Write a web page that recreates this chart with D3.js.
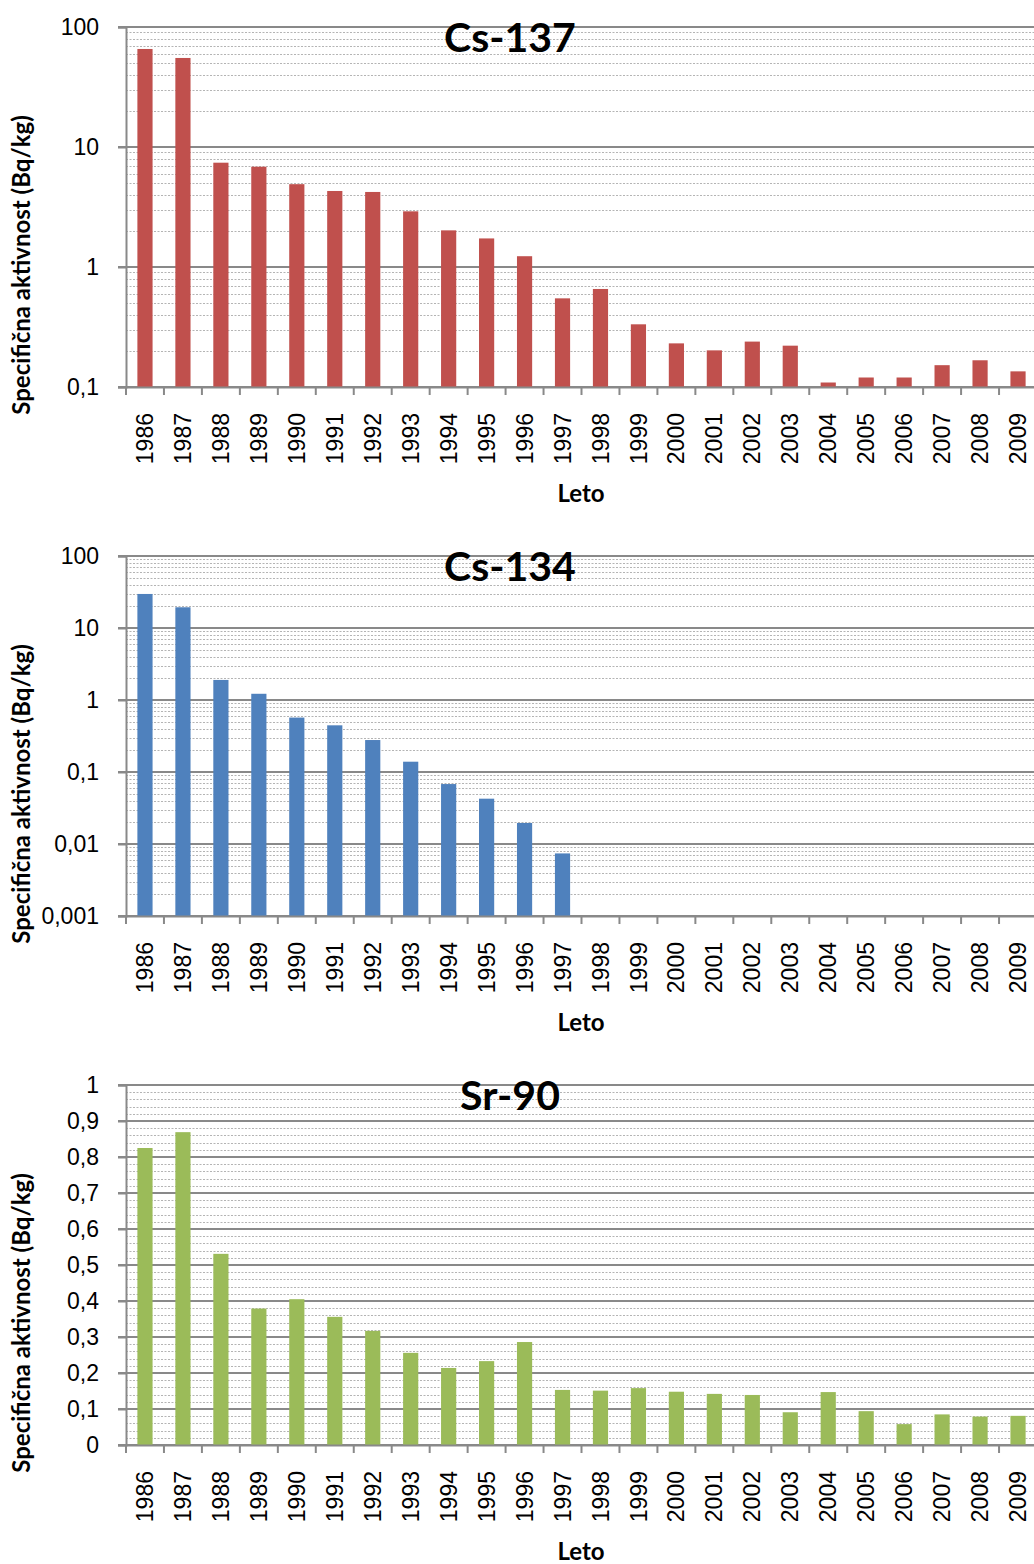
<!DOCTYPE html>
<html>
<head>
<meta charset="utf-8">
<script src="https://cdn.jsdelivr.net/npm/d3@7"></script>
<style>
  body { margin: 0; background: #fff; }
  svg { display: block; font-family: Lato, 'Open Sans', sans-serif; }
</style>
</head>
<body>
<svg id="chart"></svg>
<script>
// data
const years = ['1986', '1987', '1988', '1989', '1990', '1991', '1992', '1993', '1994', '1995', '1996', '1997',
  '1998', '1999', '2000', '2001', '2002', '2003', '2004', '2005', '2006', '2007', '2008', '2009'];
const cs137 = [65.6, 55.2, 7.4, 6.85, 4.9, 4.3, 4.22, 2.91, 2.02, 1.73, 1.23, 0.548,
  0.656, 0.333, 0.231, 0.202, 0.239, 0.221, 0.109, 0.12, 0.12, 0.152, 0.167, 0.135];
const cs134 = [29.7, 19.4, 1.9, 1.22, 0.57, 0.445, 0.278, 0.139, 0.068, 0.0426, 0.0196, 0.0074,
  null, null, null, null, null, null, null, null, null, null, null, null];
const sr90 = [0.825, 0.869, 0.531, 0.379, 0.405, 0.356, 0.317, 0.256, 0.214, 0.233, 0.286, 0.153,
  0.151, 0.158, 0.148, 0.142, 0.139, 0.091, 0.147, 0.094, 0.058, 0.085, 0.079, 0.081];

const cs137Ticks = [0.1, 1, 10, 100];
const cs134Ticks = [0.001, 0.01, 0.1, 1, 10, 100];
const sr90Ticks = [0, 0.1, 0.2, 0.3, 0.4, 0.5, 0.6, 0.7, 0.8, 0.9, 1];

const W = 1034, H = 1564;
const left = 126, right = 1037;
const plotH = 360;
const gap = 529;

const svg = d3.select('#chart').attr('width', W).attr('height', H);

const x = d3.scaleBand().domain(years).range([left, right]).paddingInner(0.6).paddingOuter(0.3);

const fmt = (d) => String(+d.toFixed(3)).replace('.', ',');

function drawPanel(idx, title, values, ticks, isLog, color) {
  const top = 27 + idx * gap;
  const bottom = top + plotH;
  const g = svg.append('g');

  let y, minor = [];
  if (isLog) {
    y = d3.scaleLog().domain([ticks[0], ticks[ticks.length - 1]]).range([bottom, top]);
    ticks.slice(0, -1).forEach((t) => {
      for (let k = 2; k <= 9; k++) minor.push(t * k);
    });
  } else {
    y = d3.scaleLinear().domain([ticks[0], ticks[ticks.length - 1]]).range([bottom, top]);
    for (let i = 0; i < 50; i++) {
      if (i % 5 !== 0) minor.push(i / 50);
    }
  }

  // minor grid (dotted)
  g.append('g')
    .selectAll('line')
    .data(minor)
    .join('line')
    .attr('x1', left)
    .attr('x2', W)
    .attr('y1', (d) => Math.round(y(d)) + 0.5)
    .attr('y2', (d) => Math.round(y(d)) + 0.5)
    .attr('stroke', '#b4b4b4')
    .attr('stroke-width', 1)
    .attr('stroke-dasharray', '2,1.5');

  // major grid
  g.append('g')
    .selectAll('line')
    .data(ticks)
    .join('line')
    .attr('x1', left - 8)
    .attr('x2', W)
    .attr('y1', (d) => y(d))
    .attr('y2', (d) => y(d))
    .attr('stroke', '#898989')
    .attr('stroke-width', 2);

  // bars
  g.append('g')
    .selectAll('rect')
    .data(years.map((yr, i) => ({ year: yr, value: values[i] })).filter((d) => d.value != null))
    .join('rect')
    .attr('x', (d) => x(d.year))
    .attr('width', x.bandwidth())
    .attr('y', (d) => y(d.value))
    .attr('height', (d) => bottom - y(d.value))
    .attr('fill', color);

  // y axis
  const yAxis = g.append('g')
    .attr('transform', `translate(${left},0)`)
    .call(d3.axisLeft(y).tickValues(ticks).tickFormat(fmt).tickSize(8).tickPadding(19));
  yAxis.select('.domain').attr('stroke', '#898989').attr('stroke-width', 2);
  yAxis.selectAll('.tick line').attr('stroke', '#898989').attr('stroke-width', 2);
  yAxis.selectAll('text').attr('font-size', 23).attr('fill', '#000');

  // x axis
  const xAxis = g.append('g')
    .attr('transform', `translate(0,${bottom})`)
    .call(d3.axisBottom(x).tickSize(0).tickSizeOuter(0));
  xAxis.select('.domain').attr('stroke', '#898989').attr('stroke-width', 2);
  xAxis.selectAll('text')
    .attr('font-size', 23)
    .attr('fill', '#000')
    .attr('transform', 'rotate(-90)')
    .attr('text-anchor', 'end')
    .attr('x', -26)
    .attr('y', 0)
    .attr('dy', '0.35em');

  // category boundary ticks
  const step = x.step();
  const bounds = years.map((yr) => x(yr) + x.bandwidth() / 2 - step / 2);
  g.append('g')
    .selectAll('line')
    .data(bounds)
    .join('line')
    .attr('x1', (d) => d)
    .attr('x2', (d) => d)
    .attr('y1', bottom)
    .attr('y2', bottom + 8)
    .attr('stroke', '#898989')
    .attr('stroke-width', 2);

  // title
  g.append('text')
    .attr('x', 510)
    .attr('y', top + 25)
    .attr('text-anchor', 'middle')
    .attr('font-size', 41)
    .attr('font-weight', 'bold')
    .text(title);

  // y label
  g.append('text')
    .attr('transform', `translate(30,${(top + bottom) / 2 + 58}) rotate(-90)`)
    .attr('text-anchor', 'middle')
    .attr('font-size', 24)
    .attr('font-weight', 'bold')
    .text('Specifična aktivnost (Bq/kg)');

  // x label
  g.append('text')
    .attr('x', 581)
    .attr('y', bottom + 115)
    .attr('text-anchor', 'middle')
    .attr('font-size', 24)
    .attr('font-weight', 'bold')
    .text('Leto');
}

drawPanel(0, 'Cs-137', cs137, cs137Ticks, true, '#C0504D');
drawPanel(1, 'Cs-134', cs134, cs134Ticks, true, '#4F81BD');
drawPanel(2, 'Sr-90', sr90, sr90Ticks, false, '#9BBB59');
</script>
</body>
</html>
